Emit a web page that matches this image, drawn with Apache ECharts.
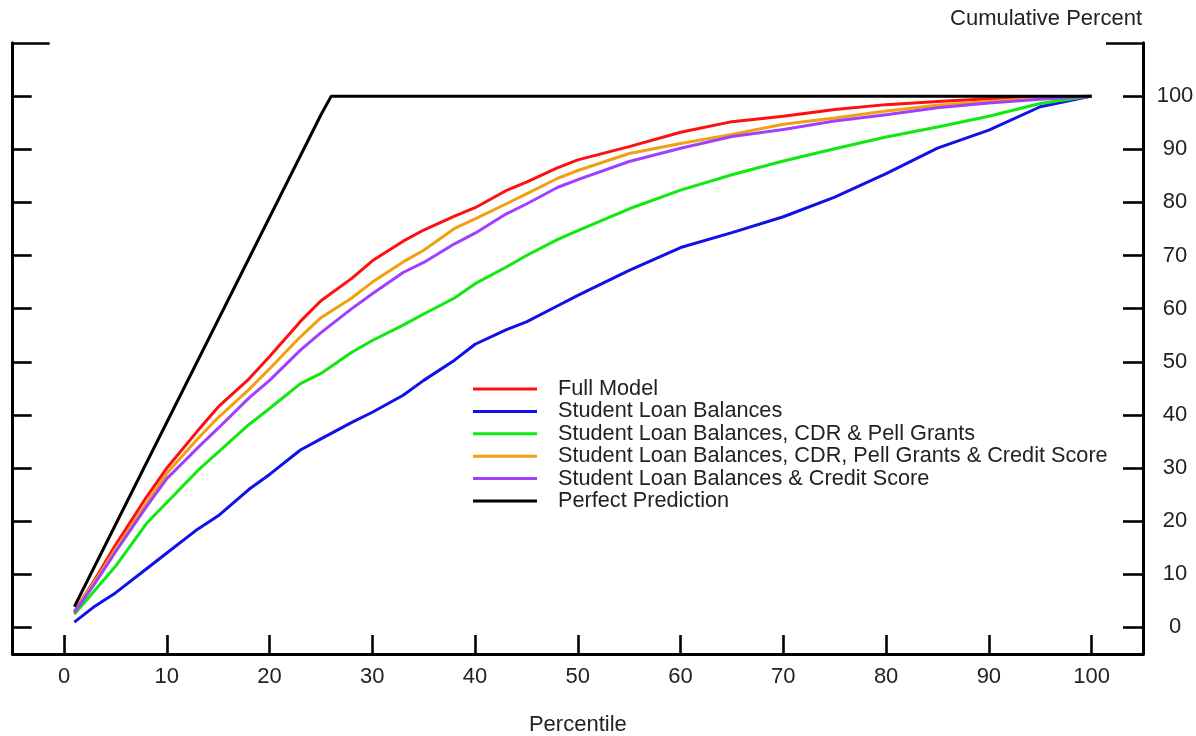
<!DOCTYPE html>
<html>
<head>
<meta charset="utf-8">
<script src="https://cdn.jsdelivr.net/npm/echarts@6/dist/echarts.min.js"></script>
<style>
html,body{margin:0;padding:0;background:#fff;}
#chart{width:1196px;height:736px;}
</style>
</head>
<body>
<div id="chart"></div>
<script>
// Percentile positions (x)
const percentiles = [1, 3, 5, 8, 10, 13, 15, 18, 20, 23, 25, 28, 30, 33, 35, 38, 40, 43, 45, 48, 50, 55, 60, 65, 70, 75, 80, 85, 90, 95, 100];

const fullModel = [3, 9, 15.5, 24.5, 30, 37, 41.5, 46.8, 51, 57.6, 61.5, 65.7, 69, 72.7, 74.8, 77.4, 79, 82.2, 83.8, 86.5, 88, 90.5, 93.2, 95.2, 96.2, 97.5, 98.4, 99, 99.5, 99.8, 100];
const loanBalances = [1, 4, 6.5, 11, 14, 18.5, 21, 26, 28.8, 33.4, 35.5, 38.6, 40.5, 43.7, 46.5, 50.3, 53.3, 56, 57.5, 60.5, 62.5, 67.2, 71.5, 74.3, 77.3, 81, 85.4, 90.2, 93.6, 98, 100];
const loanCdrPell = [2.5, 7, 11.5, 19.5, 23.5, 29.5, 33, 38.2, 41.2, 45.9, 47.8, 51.8, 54, 56.9, 59, 62, 64.7, 67.8, 70, 73, 74.7, 78.8, 82.3, 85.2, 87.8, 90.1, 92.3, 94.2, 96.2, 98.6, 100];
const loanCdrPellCredit = [3, 8.7, 14.7, 23.3, 29, 35.5, 39.5, 44.8, 48.7, 54.7, 58.3, 62, 65, 68.8, 71, 75.1, 76.9, 79.7, 81.6, 84.5, 86, 89.2, 91.1, 92.8, 94.7, 95.9, 97.2, 98.3, 99, 99.6, 100];
const loanCredit = [2.8, 8.3, 14.2, 22.7, 28, 33.8, 37.5, 43.2, 46.5, 52.2, 55.5, 60, 62.8, 66.8, 68.7, 72.2, 74.2, 77.8, 79.7, 82.8, 84.3, 87.7, 90.2, 92.4, 93.7, 95.3, 96.5, 97.8, 98.7, 99.4, 100];

const perfectX = [1, 25, 26, 100];
const perfectY = [3.9, 96.5, 100, 100];

const seriesNames = [
  'Full Model',
  'Student Loan Balances',
  'Student Loan Balances, CDR & Pell Grants',
  'Student Loan Balances, CDR, Pell Grants & Credit Score',
  'Student Loan Balances & Credit Score',
  'Perfect Prediction'
];
const seriesColors = ['#ff1010', '#1010e8', '#10e810', '#f0a010', '#a040ff', '#000000'];

const xTicks = [0, 10, 20, 30, 40, 50, 60, 70, 80, 90, 100];
const yTicks = [0, 10, 20, 30, 40, 50, 60, 70, 80, 90, 100];
const topTick = [110];

const xTitle = 'Percentile';
const yTitle = 'Cumulative Percent';

const FONT = "'Liberation Sans', Arial, sans-serif";
const TXT = '#222';

function pairs(xs, ys) { return xs.map((x, i) => [x, ys[i]]); }

const seriesValues = [fullModel, loanBalances, loanCdrPell, loanCdrPellCredit, loanCredit];
const series = seriesValues.map((vals, i) => ({
  name: seriesNames[i],
  type: 'line',
  data: pairs(percentiles, vals),
  symbol: 'none',
  lineStyle: { color: seriesColors[i], width: 3 },
  itemStyle: { color: seriesColors[i] },
  xAxisIndex: 0, yAxisIndex: 0,
  animation: false
}));
series.push({
  name: seriesNames[5],
  type: 'line',
  data: pairs(perfectX, perfectY),
  symbol: 'none',
  lineStyle: { color: seriesColors[5], width: 3 },
  itemStyle: { color: seriesColors[5] },
  xAxisIndex: 0, yAxisIndex: 0,
  animation: false
});

const axisLine = { show: true, onZero: false, lineStyle: { color: '#000', width: 3 } };

function yAxisDef(pos, tickVals, tickLen, showLabels) {
  return {
    type: 'value', position: pos, min: -5, max: 110,
    axisLine: axisLine,
    axisTick: { show: true, inside: true, length: tickLen, customValues: tickVals, lineStyle: { color: '#000', width: 2.6 } },
    axisLabel: showLabels ? {
      show: true, customValues: yTicks, align: 'center', margin: 32,
      fontFamily: FONT, fontSize: 22, color: TXT
    } : { show: false },
    splitLine: { show: false }
  };
}

const option = {
  backgroundColor: '#fff',
  animation: false,
  title: {
    text: yTitle, right: 54, top: 8, padding: 0,
    textStyle: { fontFamily: FONT, fontSize: 22, fontWeight: 'normal', color: TXT }
  },
  legend: {
    orient: 'vertical', left: 473, top: 378,
    icon: 'rect',
    itemWidth: 64, itemHeight: 3, itemGap: 0.4,
    padding: 0,
    textStyle: { fontFamily: FONT, fontSize: 21.7, lineHeight: 20.4, color: TXT, padding: [0, 0, 0, 16] },
    data: seriesNames
  },
  grid: { left: 12.7, right: 53, top: 43, bottom: 82, containLabel: false, outerBoundsMode: 'none' },
  xAxis: {
    type: 'value', min: -5, max: 105, position: 'bottom',
    axisLine: axisLine,
    axisTick: { show: true, inside: true, length: 19, customValues: xTicks, lineStyle: { color: '#000', width: 2.6 } },
    axisLabel: { show: true, customValues: xTicks, margin: 12, fontFamily: FONT, fontSize: 22, color: TXT },
    splitLine: { show: false },
    name: xTitle, nameLocation: 'middle', nameGap: 60,
    nameTextStyle: { fontFamily: FONT, fontSize: 22, color: TXT }
  },
  yAxis: [
    yAxisDef('right', yTicks, 20, true),
    yAxisDef('left', yTicks, 19, false),
    yAxisDef('left', topTick, 37, false),
    yAxisDef('right', topTick, 37, false)
  ],
  series: series
};

const chart = echarts.init(document.getElementById('chart'), null, { renderer: 'canvas' });
chart.setOption(option);
</script>
</body>
</html>
